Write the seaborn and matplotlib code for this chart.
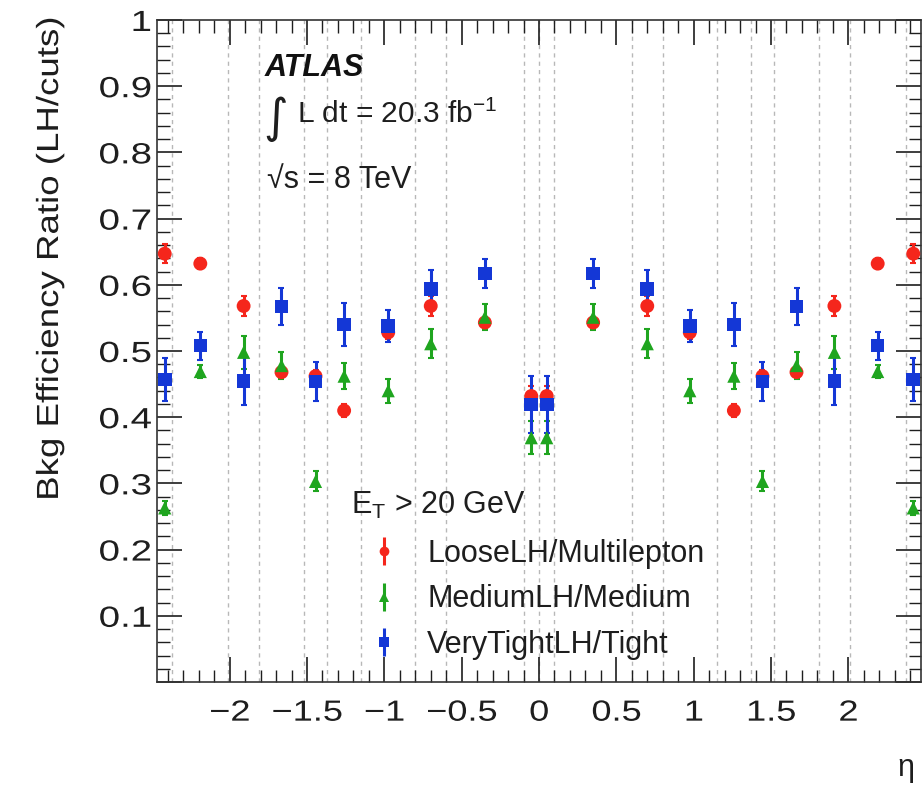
import numpy as np
import pandas as pd
import matplotlib
matplotlib.use("Agg")
import matplotlib.pyplot as plt
import seaborn as sns
from matplotlib.lines import Line2D
from matplotlib.legend_handler import HandlerTuple
from matplotlib.ticker import MultipleLocator
from matplotlib import patheffects
from matplotlib.transforms import Affine2D

# ---------------- data ----------------
eta_centers = [-2.42, -2.19, -1.91, -1.665, -1.445, -1.26, -0.975, -0.70, -0.35, -0.05,
               0.05, 0.35, 0.70, 0.975, 1.26, 1.445, 1.665, 1.91, 2.19, 2.42]
bin_edges = [-2.37, -2.01, -1.81, -1.52, -1.37, -1.15, -0.8, -0.6, -0.1, 0.0,
             0.1, 0.6, 0.8, 1.15, 1.37, 1.52, 1.81, 2.01, 2.37]

loose_vals = [0.647, 0.632, 0.568, 0.468, 0.462, 0.410, 0.528, 0.568, 0.543, 0.432,
              0.432, 0.543, 0.568, 0.528, 0.410, 0.462, 0.468, 0.568, 0.632, 0.647]
loose_errs = [0.014, 0.008, 0.015, 0.008, 0.010, 0.010, 0.010, 0.015, 0.008, 0.015,
              0.015, 0.008, 0.015, 0.010, 0.010, 0.010, 0.008, 0.015, 0.008, 0.014]

medium_vals = [0.263, 0.469, 0.498, 0.478, 0.303, 0.462, 0.440, 0.511, 0.551, 0.369,
               0.369, 0.551, 0.511, 0.440, 0.462, 0.303, 0.478, 0.498, 0.469, 0.263]
medium_errs = [0.010, 0.010, 0.025, 0.020, 0.015, 0.020, 0.018, 0.022, 0.020, 0.025,
               0.025, 0.020, 0.022, 0.018, 0.020, 0.015, 0.020, 0.025, 0.010, 0.010]

tight_vals = [0.457, 0.508, 0.455, 0.567, 0.454, 0.540, 0.538, 0.594, 0.617, 0.419,
              0.419, 0.617, 0.594, 0.538, 0.540, 0.454, 0.567, 0.455, 0.508, 0.457]
tight_errs = [0.032, 0.021, 0.037, 0.028, 0.029, 0.032, 0.024, 0.029, 0.022, 0.043,
              0.043, 0.022, 0.029, 0.024, 0.032, 0.029, 0.028, 0.037, 0.021, 0.032]

series_names = ["LooseLH/Multilepton", "MediumLH/Medium", "VeryTightLH/Tight"]
series_colors = ["#f5261c", "#1fa51f", "#1437d6"]
series_markers = ["o", "^", "s"]
series_sizes = [100, 90, 95]

x_ticks = [-2, -1.5, -1, -0.5, 0, 0.5, 1, 1.5, 2]
x_ticklabels = ["\u22122", "\u22121.5", "\u22121", "\u22120.5", "0", "0.5", "1", "1.5", "2"]
y_ticks = [0.0, 0.1, 0.2, 0.3, 0.4, 0.5, 0.6, 0.7, 0.8, 0.9, 1.0]
y_ticklabels = ["", "0.1", "0.2", "0.3", "0.4", "0.5", "0.6", "0.7", "0.8", "0.9", "1"]

frames = []
for name, vals, errs in zip(series_names,
                            [loose_vals, medium_vals, tight_vals],
                            [loose_errs, medium_errs, tight_errs]):
    frames.append(pd.DataFrame({"eta": eta_centers, "ratio": vals, "err": errs, "series": name}))
df = pd.concat(frames, ignore_index=True)


class Stretch(patheffects.AbstractPathEffect):
    """Widen glyphs along the text direction (ROOT-like wide label font)."""

    def __init__(self, sx=1.35, anchor="center"):
        super().__init__()
        self.sx = sx
        self.anchor = anchor

    def draw_path(self, renderer, gc, tpath, affine, rgbFace=None):
        v = tpath.vertices
        if len(v):
            xmin, xmax = float(v[:, 0].min()), float(v[:, 0].max())
        else:
            xmin = xmax = 0.0
        a = {"left": xmin, "right": xmax, "center": 0.5 * (xmin + xmax)}[self.anchor]
        t = Affine2D().translate(-a, 0).scale(self.sx, 1.0).translate(a, 0) + affine
        renderer.draw_path(gc, tpath, t, rgbFace)


# ---------------- style ----------------
sns.set_theme(style="ticks")
plt.rcParams["font.family"] = ["Liberation Sans", "DejaVu Sans"]
plt.rcParams["mathtext.fontset"] = "custom"
plt.rcParams["mathtext.rm"] = "Liberation Sans"
plt.rcParams["mathtext.it"] = "Liberation Sans:italic"
plt.rcParams["mathtext.bf"] = "Liberation Sans:bold"

TXT = "#1e1e1e"

fig = plt.figure(figsize=(9.24, 7.92), dpi=100)
ax = fig.add_axes([157 / 924, 1 - 682 / 792, (921 - 157) / 924, (682 - 20) / 792])

# bin boundaries as dashed grid lines
for e in bin_edges:
    ax.axvline(e, color="#b8b8b8", lw=1.0, ls=(0, (3, 3)), zorder=0)

handles = []
for name, col, mk, sz in zip(series_names, series_colors, series_markers, series_sizes):
    sub = df[df["series"] == name]
    ax.errorbar(sub["eta"], sub["ratio"], yerr=sub["err"], fmt="none",
                ecolor=col, elinewidth=2.2, capsize=2.5, capthick=1.5, zorder=2)
    sns.scatterplot(data=sub, x="eta", y="ratio", color=col, marker=mk, s=sz,
                    edgecolor="none", linewidth=0, ax=ax, legend=False, zorder=3)
    mline = Line2D([], [], marker=mk, color=col, ls="", markersize=7, markeredgewidth=0)
    vline = Line2D([], [], marker="|", color=col, ls="", markersize=20, markeredgewidth=2.2)
    handles.append((vline, mline))

ax.set_xlim(-2.47, 2.47)
ax.set_ylim(0, 1)
ax.set_xticks(x_ticks)
ax.set_xticklabels(x_ticklabels)
ax.set_yticks(y_ticks)
ax.set_yticklabels(y_ticklabels)
ax.xaxis.set_minor_locator(MultipleLocator(0.1))
ax.yaxis.set_minor_locator(MultipleLocator(0.02))
ax.tick_params(which="both", direction="in", top=True, right=True, labelsize=21, colors=TXT)
ax.tick_params(which="major", length=18, width=1.2)
ax.tick_params(which="minor", length=9, width=1.0)
ax.tick_params(axis="x", pad=12)
ax.tick_params(axis="y", pad=4)
for lbl in ax.get_xticklabels():
    lbl.set_path_effects([Stretch(1.24, "center")])
for lbl in ax.get_yticklabels():
    lbl.set_path_effects([Stretch(1.32, "right")])
for sp in ax.spines.values():
    sp.set_linewidth(1.2)
    sp.set_color("#333333")
ax.set_xlabel("")
ax.set_ylabel("")

ylab = fig.text(50 / 924, 1 - 18 / 792, "Bkg Efficiency Ratio (LH/cuts)", rotation=90,
                ha="center", va="top", fontsize=22, color=TXT)
ylab.set_path_effects([Stretch(1.2, "right")])
fig.text(906 / 924, 1 - 768 / 792, "\u03b7", ha="center", va="center", fontsize=22, color=TXT)

# ATLAS annotations
fig.text(265 / 924, 1 - 68 / 792, "ATLAS", fontsize=22, fontweight="bold", fontstyle="italic",
         ha="left", va="center", color="#111111")
fig.text(263 / 924, 1 - 119 / 792, "\u222b", fontsize=34, ha="left", va="center", color=TXT,
         family=["DejaVu Sans"])
fig.text(297 / 924, 1 - 114 / 792, r"L dt = 20.3 fb$^{\mathregular{-1}}$", fontsize=21.5,
         ha="left", va="center", color=TXT)
fig.text(267 / 924, 1 - 180 / 792, "\u221as = 8 TeV", fontsize=22, ha="left", va="center",
         color=TXT)

# legend
fig.text(351 / 924, 1 - 505 / 792, r"E$_{\mathregular{T}}$ > 20 GeV", fontsize=22, ha="left",
         va="center", color=TXT)
leg = ax.legend(handles, series_names, handler_map={tuple: HandlerTuple(ndivide=1)},
                loc="upper left", bbox_to_anchor=(372 / 924, 1 - 539 / 792),
                bbox_transform=fig.transFigure, frameon=False, fontsize=22,
                handlelength=0.8, handletextpad=1.0, labelspacing=0.5, borderpad=0,
                borderaxespad=0)
for t in leg.get_texts():
    t.set_color(TXT)

fig.savefig("out.png", dpi=100)
